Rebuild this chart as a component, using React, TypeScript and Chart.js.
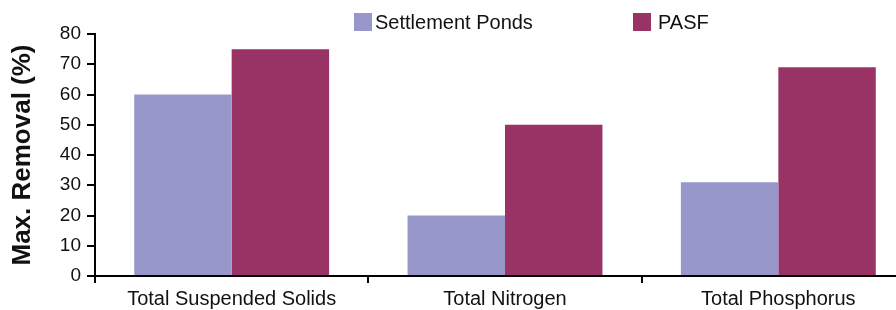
import React, { useEffect, useRef } from 'react';
import { Chart, registerables } from 'chart.js';

Chart.register(...registerables);

const categories = ['Total Suspended Solids', 'Total Nitrogen', 'Total Phosphorus'];
const seriesNames = ['Settlement Ponds', 'PASF'];
const settlementPonds = [60, 20, 31];
const pasf = [75, 50, 69];
const yMin = 0;
const yMax = 80;
const yStep = 10;
const yTitle = 'Max. Removal (%)';
const seriesColors = ['#9797CA', '#993366'];

const legendPlugin = {
  id: 'customLegend',
  afterDraw(chart: any) {
    const { ctx, chartArea } = chart;
    const offsets = [259, 538];
    const gaps = [3, 7];
    ctx.save();
    ctx.font = '20px "Liberation Sans", Arial, sans-serif';
    ctx.textBaseline = 'middle';
    ctx.textAlign = 'left';
    seriesNames.forEach((name, i) => {
      const x = chartArea.left + offsets[i];
      ctx.fillStyle = seriesColors[i];
      ctx.fillRect(x, 13, 18, 18);
      ctx.fillStyle = '#111';
      ctx.fillText(name, x + 18 + gaps[i], 23);
    });
    ctx.restore();
  },
};

export default function App() {
  const ref = useRef<HTMLCanvasElement | null>(null);
  useEffect(() => {
    if (!ref.current) return;
    const chart = new Chart(ref.current, {
      type: 'bar',
      data: {
        labels: categories,
        datasets: [
          {
            label: seriesNames[0],
            data: settlementPonds,
            backgroundColor: seriesColors[0],
            categoryPercentage: 0.713,
            barPercentage: 1.0,
          },
          {
            label: seriesNames[1],
            data: pasf,
            backgroundColor: seriesColors[1],
            categoryPercentage: 0.713,
            barPercentage: 1.0,
          },
        ],
      },
      options: {
        responsive: false,
        animation: false,
        layout: { padding: { top: 34, left: 0, right: 1, bottom: 0 } },
        plugins: {
          legend: { display: false },
          tooltip: { enabled: false },
        },
        scales: {
          x: {
            grid: {
              display: true,
              offset: true,
              drawOnChartArea: false,
              drawTicks: true,
              tickLength: 7,
              color: '#000',
              lineWidth: 2,
            },
            border: { display: true, color: '#000', width: 2 },
            ticks: {
              color: '#111',
              padding: 4,
              font: { family: '"Liberation Sans", Arial, sans-serif', size: 20 },
              maxRotation: 0,
              autoSkip: false,
            },
            afterFit(scale: any) {
              scale.height = 34;
            },
          },
          y: {
            min: yMin,
            max: yMax,
            grid: {
              display: true,
              drawOnChartArea: false,
              drawTicks: true,
              tickLength: 8,
              color: '#000',
              lineWidth: 2,
            },
            border: { display: true, color: '#000', width: 2 },
            ticks: {
              stepSize: yStep,
              color: '#111',
              padding: 6,
              font: { family: '"Liberation Sans", Arial, sans-serif', size: 19 },
            },
            title: {
              display: true,
              text: yTitle,
              color: '#111',
              padding: { top: 7, bottom: 0 },
              font: { family: '"Liberation Sans", Arial, sans-serif', size: 26, weight: 'bold' },
            },
            afterFit(scale: any) {
              scale.width = 95;
            },
          },
        },
      },
      plugins: [legendPlugin],
    });
    return () => chart.destroy();
  }, []);

  return (
    <div
      style={{
        position: 'fixed',
        left: 0,
        top: 0,
        width: 896,
        height: 310,
        overflow: 'hidden',
        background: '#fff',
      }}
    >
      <canvas ref={ref} width={916} height={310} style={{ display: 'block', width: 916, height: 310 }} />
    </div>
  );
}
